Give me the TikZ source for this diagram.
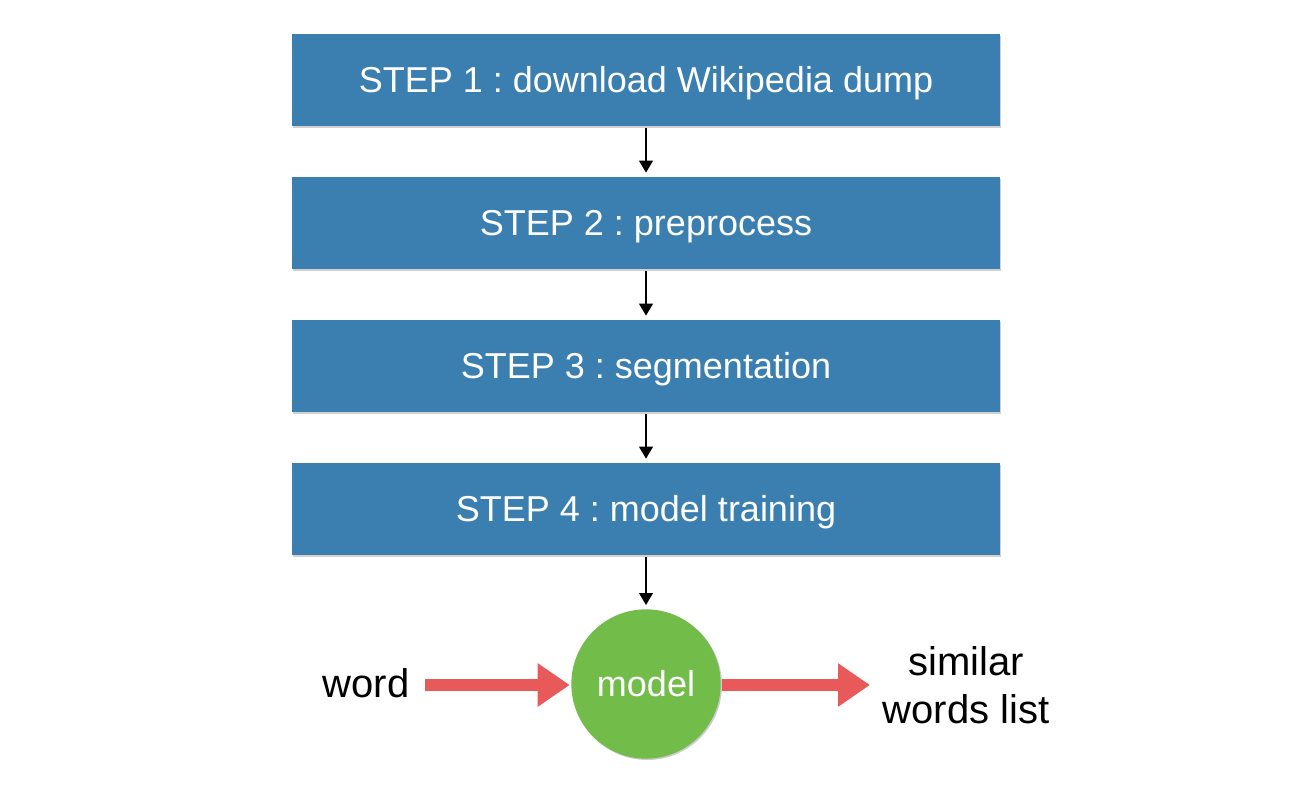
\documentclass[tikz,border=0pt]{standalone}
\usepackage{fontspec}
\setmainfont{Liberation Sans}
\usetikzlibrary{arrows.meta,shadows}
\definecolor{boxblue}{HTML}{3A7FB0}
\definecolor{modelgreen}{HTML}{72BD4A}
\definecolor{arrowred}{HTML}{E85A5A}
\frenchspacing
\begin{document}
\begin{tikzpicture}[x=0.75pt,y=-0.75pt,
  stepbox/.style={fill=boxblue,draw=none,minimum width=531pt,minimum height=69pt,
    text=white,font=\fontsize{27}{32}\selectfont,text height=19.3pt,text depth=0pt,
    drop shadow={shadow xshift=0.5pt,shadow yshift=-1.5pt,opacity=0.18,fill=black}},
  flow/.style={-{Triangle[length=9pt,width=10pt]},line width=2pt,black},
  redarrow/.style={-{Triangle[length=24pt,width=31pt]},line width=9pt,arrowred},
  plain/.style={font=\fontsize{30}{36}\selectfont,text=black,align=center}]
\useasboundingbox (0,0) rectangle (1310,792);
\node[stepbox] (s1) at (646,80) {STEP 1 : download Wikipedia dump};
\node[stepbox] (s2) at (646,223) {STEP 2 : preprocess};
\node[stepbox] (s3) at (646,366) {STEP 3 : segmentation};
\node[stepbox] (s4) at (646,509) {STEP 4 : model training};
\node[circle,fill=modelgreen,minimum size=112pt,inner sep=0pt,text=white,
  font=\fontsize{27}{32}\selectfont,
  drop shadow={shadow xshift=1pt,shadow yshift=-1pt,opacity=0.2,fill=black}] (m) at (646,684) {model};
\node[plain] (w) at (366,683) {word};
\node[plain] (out) at (966,685) {similar\\words list};
\draw[flow] ([yshift=-1.5pt]s1.south) -- ([yshift=3pt]s2.north);
\draw[flow] ([yshift=-1.5pt]s2.south) -- ([yshift=3pt]s3.north);
\draw[flow] ([yshift=-1.5pt]s3.south) -- ([yshift=3pt]s4.north);
\draw[flow] ([yshift=-1.5pt]s4.south) -- ([yshift=3pt]m.north);
\coordinate (wl) at (425,685);
\coordinate (wr) at (870,685);
\draw[redarrow] (wl) -- ([xshift=-1pt]m.west |- wl);
\draw[redarrow] ([xshift=1pt]m.east |- wr) -- (wr);
\end{tikzpicture}
\end{document}
